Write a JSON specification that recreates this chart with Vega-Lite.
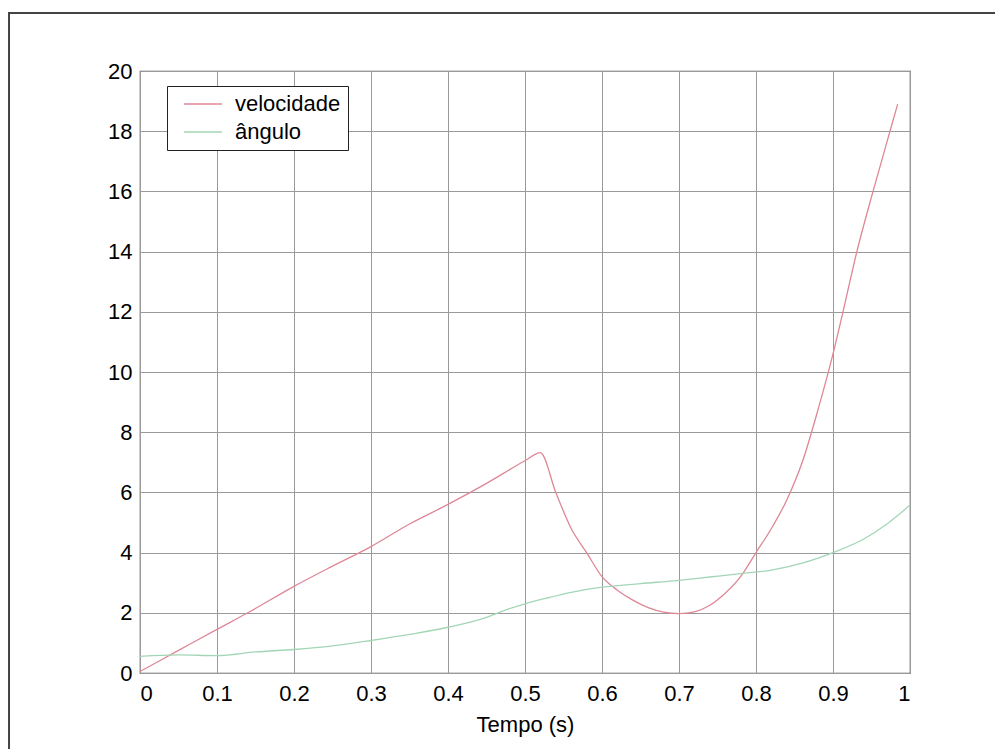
{
  "$schema": "https://vega.github.io/schema/vega-lite/v6.json",
  "width": 770,
  "height": 602,
  "autosize": {"type": "none"},
  "padding": {"left": 140, "top": 71, "right": 85, "bottom": 76},
  "background": "white",
  "config": {
    "font": "Liberation Sans, Arial",
    "view": {"stroke": "#555555", "strokeWidth": 1.2},
    "axis": {
      "gridColor": "#9a9a9a",
      "gridWidth": 1,
      "domain": false,
      "ticks": false,
      "labelFontSize": 22,
      "labelColor": "#000000",
      "titleFontSize": 22,
      "titleFontWeight": "normal",
      "titleColor": "#000000"
    }
  },
  "datasets": {
    "series": [
      {"t": 0.0, "v": 0.05, "serie": "velocidade"},
      {"t": 0.05, "v": 0.75, "serie": "velocidade"},
      {"t": 0.1, "v": 1.45, "serie": "velocidade"},
      {"t": 0.14, "v": 2.0, "serie": "velocidade"},
      {"t": 0.2, "v": 2.88, "serie": "velocidade"},
      {"t": 0.25, "v": 3.55, "serie": "velocidade"},
      {"t": 0.3, "v": 4.2, "serie": "velocidade"},
      {"t": 0.35, "v": 4.95, "serie": "velocidade"},
      {"t": 0.4, "v": 5.6, "serie": "velocidade"},
      {"t": 0.45, "v": 6.3, "serie": "velocidade"},
      {"t": 0.5, "v": 7.05, "serie": "velocidade"},
      {"t": 0.52, "v": 7.32, "serie": "velocidade"},
      {"t": 0.54, "v": 6.0, "serie": "velocidade"},
      {"t": 0.56, "v": 4.8, "serie": "velocidade"},
      {"t": 0.58, "v": 4.0, "serie": "velocidade"},
      {"t": 0.6, "v": 3.2, "serie": "velocidade"},
      {"t": 0.62, "v": 2.75, "serie": "velocidade"},
      {"t": 0.64, "v": 2.42, "serie": "velocidade"},
      {"t": 0.66, "v": 2.17, "serie": "velocidade"},
      {"t": 0.68, "v": 2.02, "serie": "velocidade"},
      {"t": 0.7, "v": 1.97, "serie": "velocidade"},
      {"t": 0.72, "v": 2.03, "serie": "velocidade"},
      {"t": 0.74, "v": 2.25, "serie": "velocidade"},
      {"t": 0.76, "v": 2.65, "serie": "velocidade"},
      {"t": 0.78, "v": 3.2, "serie": "velocidade"},
      {"t": 0.8, "v": 4.0, "serie": "velocidade"},
      {"t": 0.82, "v": 4.8, "serie": "velocidade"},
      {"t": 0.84, "v": 5.75, "serie": "velocidade"},
      {"t": 0.86, "v": 7.0, "serie": "velocidade"},
      {"t": 0.88, "v": 8.7, "serie": "velocidade"},
      {"t": 0.9, "v": 10.6, "serie": "velocidade"},
      {"t": 0.913, "v": 12.0, "serie": "velocidade"},
      {"t": 0.931, "v": 14.0, "serie": "velocidade"},
      {"t": 0.952, "v": 16.0, "serie": "velocidade"},
      {"t": 0.974, "v": 18.0, "serie": "velocidade"},
      {"t": 0.984, "v": 18.9, "serie": "velocidade"},
      {"t": 0.0, "v": 0.55, "serie": "ângulo"},
      {"t": 0.05, "v": 0.6, "serie": "ângulo"},
      {"t": 0.1, "v": 0.58, "serie": "ângulo"},
      {"t": 0.15, "v": 0.7, "serie": "ângulo"},
      {"t": 0.2, "v": 0.78, "serie": "ângulo"},
      {"t": 0.25, "v": 0.9, "serie": "ângulo"},
      {"t": 0.3, "v": 1.08, "serie": "ângulo"},
      {"t": 0.35, "v": 1.28, "serie": "ângulo"},
      {"t": 0.4, "v": 1.52, "serie": "ângulo"},
      {"t": 0.45, "v": 1.85, "serie": "ângulo"},
      {"t": 0.47, "v": 2.05, "serie": "ângulo"},
      {"t": 0.5, "v": 2.3, "serie": "ângulo"},
      {"t": 0.53, "v": 2.5, "serie": "ângulo"},
      {"t": 0.56, "v": 2.68, "serie": "ângulo"},
      {"t": 0.6, "v": 2.85, "serie": "ângulo"},
      {"t": 0.65, "v": 2.97, "serie": "ângulo"},
      {"t": 0.7, "v": 3.08, "serie": "ângulo"},
      {"t": 0.74, "v": 3.19, "serie": "ângulo"},
      {"t": 0.78, "v": 3.3, "serie": "ângulo"},
      {"t": 0.82, "v": 3.42, "serie": "ângulo"},
      {"t": 0.86, "v": 3.65, "serie": "ângulo"},
      {"t": 0.9, "v": 4.0, "serie": "ângulo"},
      {"t": 0.94, "v": 4.45, "serie": "ângulo"},
      {"t": 0.97, "v": 4.95, "serie": "ângulo"},
      {"t": 1.0, "v": 5.58, "serie": "ângulo"}
    ],
    "frame": [{"x0": -0.1701, "x1": 1.4, "y0": 21.93, "y1": -6}]
  },
  "layer": [
    {
      "data": {"name": "frame"},
      "mark": {"type": "rect", "fill": null, "stroke": "#444444", "strokeWidth": 2, "clip": false},
      "encoding": {
        "x": {"field": "x0", "type": "quantitative", "scale": {"domain": [0, 1], "nice": false, "zero": false}},
        "x2": {"field": "x1"},
        "y": {"field": "y0", "type": "quantitative", "scale": {"domain": [0, 20], "nice": false}},
        "y2": {"field": "y1"}
      }
    },
    {
      "data": {"name": "series"},
      "mark": {"type": "line", "strokeWidth": 1.3, "interpolate": "monotone"},
      "encoding": {
        "x": {
          "field": "t", "type": "quantitative",
          "scale": {"domain": [0, 1], "nice": false, "zero": false},
          "axis": {"values": [0, 0.1, 0.2, 0.3, 0.4, 0.5, 0.6, 0.7, 0.8, 0.9, 1], "format": ".1~f", "labelPadding": 10, "titlePadding": 10, "title": "Tempo (s)"}
        },
        "y": {
          "field": "v", "type": "quantitative",
          "scale": {"domain": [0, 20], "nice": false},
          "axis": {"values": [0, 2, 4, 6, 8, 10, 12, 14, 16, 18, 20], "format": "d", "labelPadding": 8, "title": null}
        },
        "color": {
          "field": "serie", "type": "nominal",
          "scale": {"domain": ["velocidade", "ângulo"], "range": ["#de8796", "#a3d6b6"]},
          "legend": {
            "title": null,
            "orient": "none",
            "legendX": 27,
            "legendY": 15,
            "direction": "vertical",
            "fillColor": "white",
            "strokeColor": "#222222",
            "padding": 7,
            "symbolType": "M-2,0H2",
            "symbolSize": 361,
            "symbolOffset": 18,
            "symbolStrokeWidth": 1.3,
            "labelFontSize": 22,
            "labelColor": "#000000",
            "labelOffset": 21,
            "labelExpr": "datum.label + '\u00a0\u00a0\u00a0\u00a0\u00a0'",
            "rowPadding": 6
          }
        }
      }
    }
  ]
}
